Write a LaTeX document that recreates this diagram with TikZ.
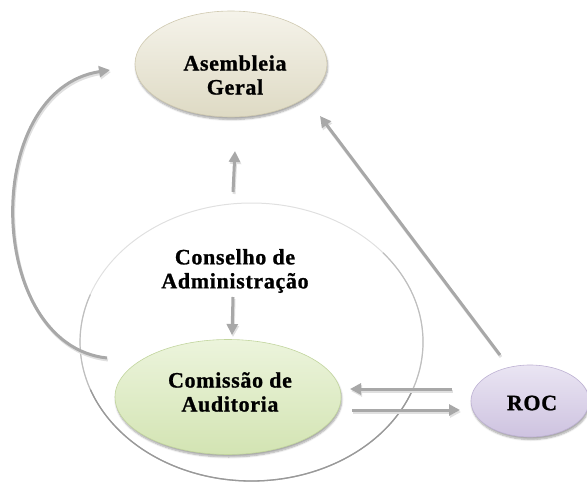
\documentclass[tikz,border=0pt]{standalone}
\usepackage{fontspec}
\setmainfont{Liberation Serif}
\usetikzlibrary{arrows.meta,shadows.blur,shapes.geometric}
\definecolor{asmtop}{HTML}{F5F3EA}
\definecolor{asmbot}{HTML}{DEDAC4}
\definecolor{asmrim}{HTML}{CFC9B0}
\definecolor{comtop}{HTML}{ECF4DC}
\definecolor{combot}{HTML}{D3E4B3}
\definecolor{comrim}{HTML}{C2D59E}
\definecolor{roctop}{HTML}{EAE5F3}
\definecolor{rocbot}{HTML}{CEC3E0}
\definecolor{rocrim}{HTML}{BDB1D3}
\definecolor{arrgray}{HTML}{A8A8A8}
\tikzset{
  bubble/.style={ellipse, inner sep=0pt, line width=0.6pt,
    blur shadow={shadow blur steps=6, shadow xshift=0.8pt, shadow yshift=-2.5pt, shadow opacity=35}},
  lbl/.style={align=center, inner sep=0pt,
    font=\bfseries\addfontfeatures{LetterSpace=3,FakeBold=1}\fontsize{22}{24}\selectfont},
  conn/.style={draw=arrgray, line width=3pt,
    -{Triangle[length=11pt,width=11pt]},
    preaction={draw=black!12, line width=3pt, transform canvas={xshift=1pt,yshift=-2pt}}},
}
\begin{document}
\begin{tikzpicture}[x=1pt,y=-1pt]
\useasboundingbox (0,0) rectangle (587,487);
% outer ellipse (Conselho de Administracao)
\node[ellipse, draw=black!12, line width=1pt, minimum width=343pt, minimum height=278pt, inner sep=0pt] (cons) at (251.5,342) {};
\draw[black!25, line width=1.2pt] ([shift={(131.4,-89.3)}]cons.center) arc[start angle=-40, end angle=200, x radius=171.5, y radius=139];
\draw[black!40, line width=1.3pt] ([shift={(161.2,47.5)}]cons.center) arc[start angle=20, end angle=160, x radius=171.5, y radius=139];
\node[lbl] (const) at (235,271) {Conselho de\\Administração};
% Assembleia
\node[bubble, minimum width=192pt, minimum height=106pt, top color=asmtop, bottom color=asmbot, draw=asmrim] (asm) at (231,64) {};
\node[lbl] (asmt) at (235,75) {Asembleia\\Geral};
% Comissao
\node[bubble, minimum width=226pt, minimum height=115pt, top color=comtop, bottom color=combot, draw=comrim] (com) at (228,397) {};
\node[lbl] (comt) at (230,392) {Comissão de\\Auditoria};
% ROC
\node[bubble, minimum width=118pt, minimum height=72pt, top color=roctop, bottom color=rocbot, draw=rocrim] (roc) at (530,401) {};
\node[lbl] (roct) at (532,403) {ROC};
% connector end points
\coordinate (upS) at (233,192);
\coordinate (upE) at (235,151);
\coordinate (dnS) at (233,297);
\coordinate (dnE) at (232,335);
\coordinate (rocS) at (500,355);
\coordinate (asmE) at (320,116);
\coordinate (rocL) at (452,389);
\coordinate (comR) at (350,389);
\coordinate (comL) at (352,410);
\coordinate (rocR) at (460,410);
\coordinate (loopS) at (107,358);
\coordinate (loopE) at (110,70);
% connectors
\draw[conn] (upS) -- (upE);
\draw[conn] (dnS) -- (dnE);
\draw[conn] (rocS) -- (asmE);
\draw[conn] (rocL) -- (comR);
\draw[conn] (comL) -- (rocR);
\draw[conn] (loopS) .. controls (-15,345) and (-20,90) .. (loopE);
\end{tikzpicture}
\end{document}
